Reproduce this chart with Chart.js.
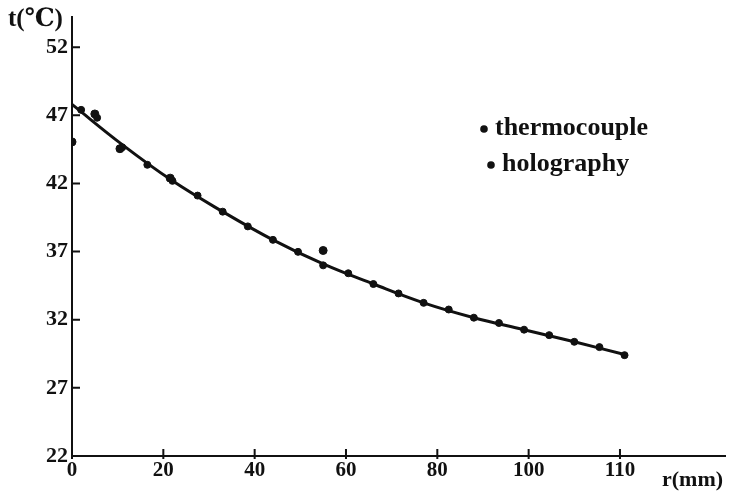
<!DOCTYPE html>
<html>
<head>
<meta charset="utf-8">
<script src="https://cdn.jsdelivr.net/npm/chart.js@4"></script>
<style>
  html, body { margin: 0; padding: 0; background: #fff; }
  #wrap { width: 730px; height: 495px; position: relative; }
</style>
</head>
<body>
<div id="wrap"><canvas id="grafico" width="730" height="495"></canvas></div>
<script>
// tick positions and their printed labels
const xTickVals = [0, 20, 40, 60, 80, 100, 120];
const xTickLabels = ['0', '20', '40', '60', '80', '100', '110'];
const yTickVals = [22, 27, 32, 37, 42, 47, 52];

// holography readings (r in mm, t in °C)
const holoX = [2, 5.5, 11, 16.5, 22, 27.5, 33, 38.5, 44, 49.5, 55, 60.5, 66, 71.5, 77, 82.5, 88, 93.5, 99, 104.5, 110, 115.5, 121];
const holoY = [47.4, 46.82, 44.65, 43.37, 42.19, 41.11, 39.93, 38.85, 37.86, 36.98, 35.99, 35.41, 34.62, 33.93, 33.24, 32.75, 32.15, 31.76, 31.27, 30.87, 30.38, 29.99, 29.4];

// thermocouple readings
const thermoX = [0, 5, 10.5, 21.5, 55];
const thermoY = [45.05, 47.1, 44.55, 42.39, 37.08];

// fitted curve
const fitX = [0, 11, 22, 33, 44, 55, 66, 77, 88, 99, 110, 121];
const fitY = [47.8, 44.85, 42.19, 39.93, 37.86, 36.09, 34.62, 33.24, 32.15, 31.27, 30.38, 29.45];

const legendNames = ['thermocouple', 'holography'];

function pts(xs, ys) {
    return xs.map((x, i) => ({ x: x, y: ys[i] }));
}

const serif = '"Liberation Serif", "DejaVu Serif", serif';

// inward tick marks, axis titles and the in-plot legend
const extras = {
    id: 'extras',
    afterDraw(chart) {
        const ctx = chart.ctx;
        const xs = chart.scales.x, ys = chart.scales.y;
        const a = chart.chartArea;
        ctx.save();
        ctx.strokeStyle = '#111';
        ctx.lineWidth = 2;
        ctx.beginPath();
        yTickVals.forEach(v => {
            const py = ys.getPixelForValue(v);
            ctx.moveTo(a.left, py);
            ctx.lineTo(a.left + 8, py);
        });
        xTickVals.forEach(v => {
            const px = xs.getPixelForValue(v);
            ctx.moveTo(px, a.bottom - 7);
            ctx.lineTo(px, a.bottom + 3);
        });
        ctx.stroke();

        ctx.fillStyle = '#111';
        ctx.textBaseline = 'middle';
        ctx.textAlign = 'left';
        ctx.font = 'bold 25px ' + serif;
        ctx.fillText('t(\u2103)', 8, 20);
        ctx.font = 'bold 22px ' + serif;
        ctx.fillText('r(mm)', 662, 480);

        ctx.font = 'bold 26px ' + serif;
        const lx = [484, 491], ly = [128, 164];
        legendNames.forEach((name, i) => {
            ctx.beginPath();
            ctx.arc(lx[i], ly[i] + 1, 3.8, 0, Math.PI * 2);
            ctx.fill();
            ctx.fillText(name, lx[i] + 11, ly[i]);
        });
        ctx.restore();
    }
};

new Chart(document.getElementById('grafico'), {
    type: 'scatter',
    data: {
        datasets: [
            {
                label: 'fit',
                type: 'line',
                data: pts(fitX, fitY),
                borderColor: '#111',
                borderWidth: 3,
                pointRadius: 0,
                tension: 0.4,
                fill: false
            },
            {
                label: 'holography',
                data: pts(holoX, holoY),
                backgroundColor: '#111',
                borderColor: '#111',
                pointRadius: 3.5
            },
            {
                label: 'thermocouple',
                data: pts(thermoX, thermoY),
                backgroundColor: '#111',
                borderColor: '#111',
                pointRadius: 4
            }
        ]
    },
    options: {
        responsive: false,
        animation: false,
        devicePixelRatio: 1,
        layout: { padding: { left: 0, top: 15, right: 5, bottom: 0 } },
        plugins: { legend: { display: false }, tooltip: { enabled: false } },
        scales: {
            x: {
                type: 'linear',
                min: 0,
                max: 143,
                afterBuildTicks: s => { s.ticks = xTickVals.map(v => ({ value: v })); },
                afterFit: s => { s.height = 39; },
                grid: { display: false, drawTicks: false },
                border: { display: true, color: '#111', width: 2 },
                ticks: {
                    color: '#111',
                    padding: 2,
                    maxRotation: 0,
                    autoSkip: false,
                    font: { family: serif, size: 21, weight: 'bold' },
                    callback: v => xTickLabels[xTickVals.indexOf(v)]
                }
            },
            y: {
                type: 'linear',
                min: 22,
                max: 54.2,
                afterBuildTicks: s => { s.ticks = yTickVals.map(v => ({ value: v })); },
                afterFit: s => { s.width = 72; },
                grid: { display: false, drawTicks: false },
                border: { display: true, color: '#111', width: 2 },
                ticks: {
                    color: '#111',
                    padding: 4,
                    autoSkip: false,
                    font: { family: serif, size: 22, weight: 'bold' }
                }
            }
        }
    },
    plugins: [extras]
});
</script>
</body>
</html>
